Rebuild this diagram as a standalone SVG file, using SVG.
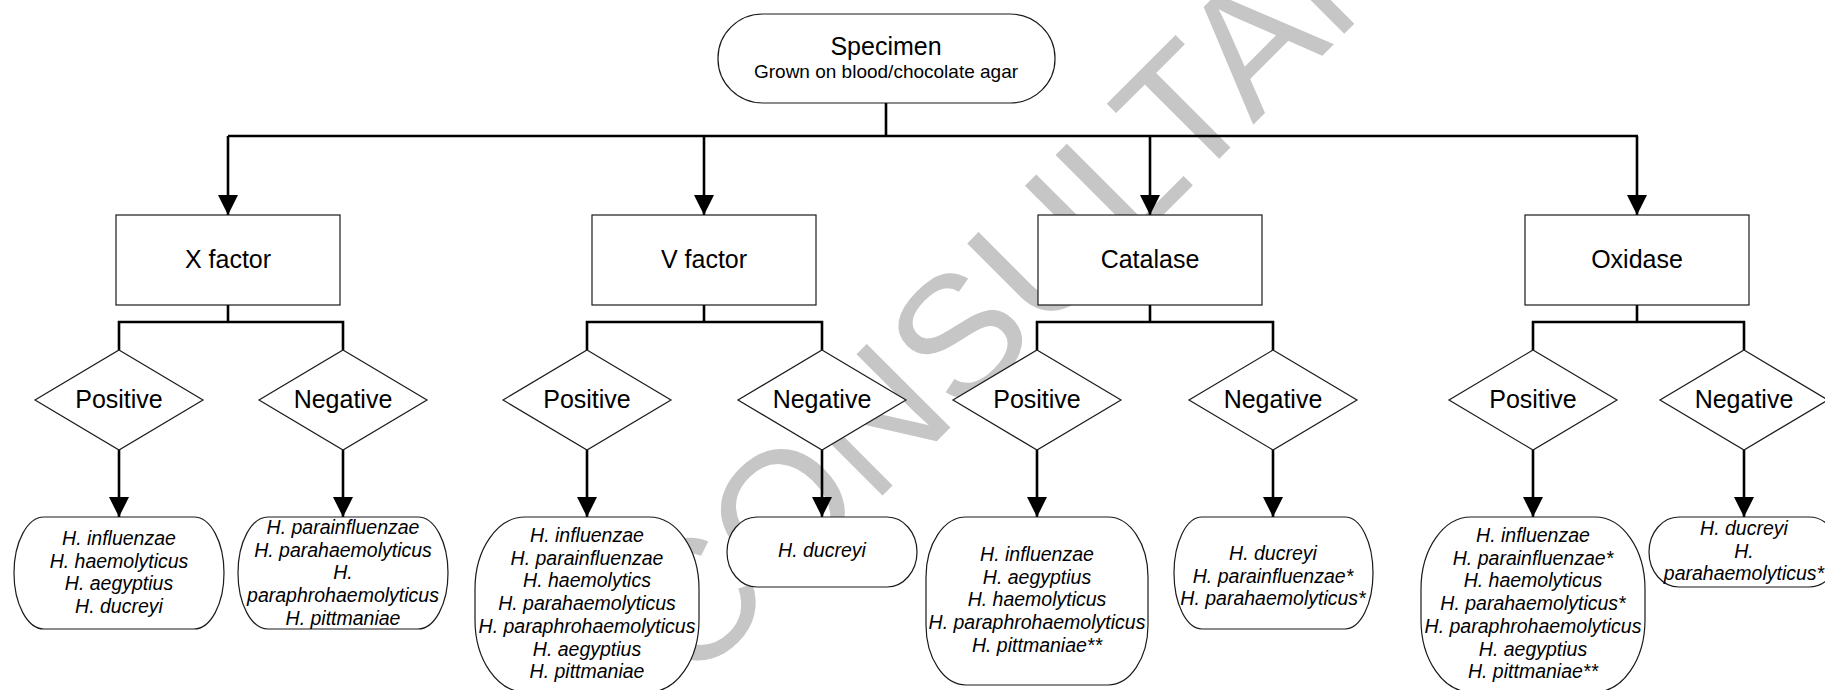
<svg xmlns="http://www.w3.org/2000/svg" width="1825" height="690" viewBox="0 0 1825 690">
<style>
.node{fill:#fff;stroke:#1a1a1a;stroke-width:1.2}
.lbl{font-family:"Liberation Sans",Arial,sans-serif;font-size:25px;fill:#000;text-anchor:middle}
.sub{font-family:"Liberation Sans",Arial,sans-serif;font-size:19px;fill:#000;text-anchor:middle}
.sp{font-family:"Liberation Sans",Arial,sans-serif;font-size:19.5px;font-style:italic;fill:#000;text-anchor:middle}
.con{fill:none;stroke:#000;stroke-width:2.6}
.wm{font-family:"Liberation Sans",Arial,sans-serif;font-size:172px;fill:#c6c6c6}
</style>
<defs>
<marker id="arr" viewBox="0 0 20 20" refX="20" refY="10" markerWidth="20" markerHeight="20" markerUnits="userSpaceOnUse" orient="auto">
<path d="M0,0 L20,10 L0,20 z" fill="#000"/>
</marker>
</defs>
<rect width="1825" height="690" fill="#fff"/>
<g id="watermark">
<text class="wm" x="690" y="688" transform="rotate(-45 690 688)">CONSULTANT</text>
</g>
<g id="connectors">
<path class="con" d="M886,103 V136 M228,136 H1638"/>
<path class="con" d="M228,136 V215" marker-end="url(#arr)"/>
<path class="con" d="M704,136 V215" marker-end="url(#arr)"/>
<path class="con" d="M1150,136 V215" marker-end="url(#arr)"/>
<path class="con" d="M1637,136 V215" marker-end="url(#arr)"/>
<path class="con" d="M228,305 V322 M119,350 V322 H343 V350"/>
<path class="con" d="M704,305 V322 M587,350 V322 H822 V350"/>
<path class="con" d="M1150,305 V322 M1037,350 V322 H1273 V350"/>
<path class="con" d="M1637,305 V322 M1533,350 V322 H1744 V350"/>
<path class="con" d="M119,450 V517" marker-end="url(#arr)"/>
<path class="con" d="M343,450 V517" marker-end="url(#arr)"/>
<path class="con" d="M587,450 V517" marker-end="url(#arr)"/>
<path class="con" d="M822,450 V517" marker-end="url(#arr)"/>
<path class="con" d="M1037,450 V517" marker-end="url(#arr)"/>
<path class="con" d="M1273,450 V517" marker-end="url(#arr)"/>
<path class="con" d="M1533,450 V517" marker-end="url(#arr)"/>
<path class="con" d="M1744,450 V517" marker-end="url(#arr)"/>
</g>
<g id="specimen">
<rect class="node" x="718" y="14" width="337" height="89" rx="45" ry="44"/>
<text class="lbl" x="886" y="55">Specimen</text>
<text class="sub" x="886" y="78">Grown on blood/chocolate agar</text>
</g>
<g id="xfactor">
<rect class="node" x="116" y="215" width="224" height="90"/>
<text class="lbl" x="228" y="268">X factor</text>
</g>
<g id="vfactor">
<rect class="node" x="592" y="215" width="224" height="90"/>
<text class="lbl" x="704" y="268">V factor</text>
</g>
<g id="catalase">
<rect class="node" x="1038" y="215" width="224" height="90"/>
<text class="lbl" x="1150" y="268">Catalase</text>
</g>
<g id="oxidase">
<rect class="node" x="1525" y="215" width="224" height="90"/>
<text class="lbl" x="1637" y="268">Oxidase</text>
</g>
<g id="x-pos">
<path class="node" d="M119,350 L203,400 L119,450 L35,400 Z"/>
<text class="lbl" x="119" y="408">Positive</text>
</g>
<g id="x-neg">
<path class="node" d="M343,350 L427,400 L343,450 L259,400 Z"/>
<text class="lbl" x="343" y="408">Negative</text>
</g>
<g id="v-pos">
<path class="node" d="M587,350 L671,400 L587,450 L503,400 Z"/>
<text class="lbl" x="587" y="408">Positive</text>
</g>
<g id="v-neg">
<path class="node" d="M822,350 L906,400 L822,450 L738,400 Z"/>
<text class="lbl" x="822" y="408">Negative</text>
</g>
<g id="c-pos">
<path class="node" d="M1037,350 L1121,400 L1037,450 L953,400 Z"/>
<text class="lbl" x="1037" y="408">Positive</text>
</g>
<g id="c-neg">
<path class="node" d="M1273,350 L1357,400 L1273,450 L1189,400 Z"/>
<text class="lbl" x="1273" y="408">Negative</text>
</g>
<g id="o-pos">
<path class="node" d="M1533,350 L1617,400 L1533,450 L1449,400 Z"/>
<text class="lbl" x="1533" y="408">Positive</text>
</g>
<g id="o-neg">
<path class="node" d="M1744,350 L1828,400 L1744,450 L1660,400 Z"/>
<text class="lbl" x="1744" y="408">Negative</text>
</g>
<g id="x-pos-result">
<rect class="node" x="14" y="517" width="210" height="112" rx="30" ry="56"/>
<text class="sp" x="119" y="545"><tspan x="119">H. influenzae</tspan><tspan x="119" dy="22.7">H. haemolyticus</tspan><tspan x="119" dy="22.7">H. aegyptius</tspan><tspan x="119" dy="22.7">H. ducreyi</tspan></text>
</g>
<g id="x-neg-result">
<rect class="node" x="238" y="517" width="210" height="112" rx="30" ry="56"/>
<text class="sp" x="343" y="534"><tspan x="343">H. parainfluenzae</tspan><tspan x="343" dy="22.7">H. parahaemolyticus</tspan><tspan x="343" dy="22.7">H.</tspan><tspan x="343" dy="22.7">paraphrohaemolyticus</tspan><tspan x="343" dy="22.7">H. pittmaniae</tspan></text>
</g>
<g id="v-pos-result">
<rect class="node" x="475" y="517" width="224" height="175" rx="50" ry="72"/>
<text class="sp" x="587" y="542"><tspan x="587">H. influenzae</tspan><tspan x="587" dy="22.7">H. parainfluenzae</tspan><tspan x="587" dy="22.7">H. haemolytics</tspan><tspan x="587" dy="22.7">H. parahaemolyticus</tspan><tspan x="587" dy="22.7">H. paraphrohaemolyticus</tspan><tspan x="587" dy="22.7">H. aegyptius</tspan><tspan x="587" dy="22.7">H. pittmaniae</tspan></text>
</g>
<g id="v-neg-result">
<rect class="node" x="727" y="517" width="190" height="70" rx="30" ry="35"/>
<text class="sp" x="822" y="557">H. ducreyi</text>
</g>
<g id="c-pos-result">
<rect class="node" x="926" y="517" width="222" height="168" rx="40" ry="60"/>
<text class="sp" x="1037" y="561"><tspan x="1037">H. influenzae</tspan><tspan x="1037" dy="22.7">H. aegyptius</tspan><tspan x="1037" dy="22.7">H. haemolyticus</tspan><tspan x="1037" dy="22.7">H. paraphrohaemolyticus</tspan><tspan x="1037" dy="22.7">H. pittmaniae**</tspan></text>
</g>
<g id="c-neg-result">
<rect class="node" x="1174" y="517" width="199" height="112" rx="28" ry="56"/>
<text class="sp" x="1273" y="560"><tspan x="1273">H. ducreyi</tspan><tspan x="1273" dy="22.7">H. parainfluenzae*</tspan><tspan x="1273" dy="22.7">H. parahaemolyticus*</tspan></text>
</g>
<g id="o-pos-result">
<rect class="node" x="1421" y="517" width="224" height="175" rx="50" ry="72"/>
<text class="sp" x="1533" y="542"><tspan x="1533">H. influenzae</tspan><tspan x="1533" dy="22.7">H. parainfluenzae*</tspan><tspan x="1533" dy="22.7">H. haemolyticus</tspan><tspan x="1533" dy="22.7">H. parahaemolyticus*</tspan><tspan x="1533" dy="22.7">H. paraphrohaemolyticus</tspan><tspan x="1533" dy="22.7">H. aegyptius</tspan><tspan x="1533" dy="22.7">H. pittmaniae**</tspan></text>
</g>
<g id="o-neg-result">
<rect class="node" x="1649" y="517" width="190" height="70" rx="30" ry="35"/>
<text class="sp" x="1744" y="535"><tspan x="1744">H. ducreyi</tspan><tspan x="1744" dy="22.7">H.</tspan><tspan x="1744" dy="22.7">parahaemolyticus*</tspan></text>
</g>
</svg>
